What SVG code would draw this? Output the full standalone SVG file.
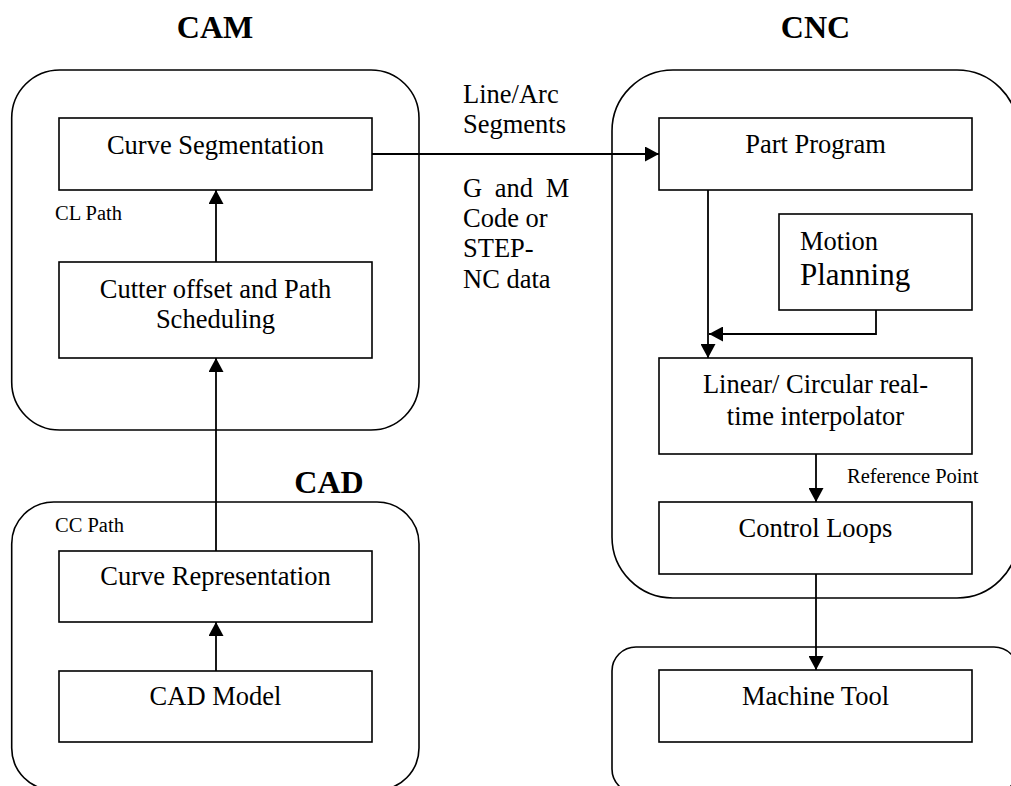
<svg xmlns="http://www.w3.org/2000/svg" width="1011" height="786" viewBox="0 0 1011 786">
  <defs>
    <marker id="arrow" markerWidth="14" markerHeight="15" refX="14" refY="7.5" orient="auto" markerUnits="userSpaceOnUse">
      <path d="M0,0 L14,7.5 L0,15 Z" fill="#000"/>
    </marker>
  </defs>
  <style>
    .group { fill: none; stroke: #000; stroke-width: 1.6; }
    .box { fill: #fff; stroke: #000; stroke-width: 1.6; }
    .t { font-family: "Liberation Serif", "Times New Roman", serif; font-size: 26.5px; fill: #000; }
    .c { text-anchor: middle; }
    .small { font-family: "Liberation Serif", "Times New Roman", serif; font-size: 20.5px; fill: #000; }
    .title { font-family: "Liberation Serif", "Times New Roman", serif; font-size: 32px; font-weight: bold; fill: #000; text-anchor: middle; }
    .conn { fill: none; stroke: #000; stroke-width: 1.8; }
  </style>

  <rect width="1011" height="786" fill="#fff"/>

  <!-- Section frames -->
  <g id="cam-frame">
    <rect class="group" x="11.7" y="70" width="407.3" height="360" rx="48" ry="48"/>
    <text class="title" x="215" y="38">CAM</text>
    <text class="small" x="55" y="220">CL Path</text>
  </g>
  <g id="cad-frame">
    <rect class="group" x="11.7" y="502" width="407.3" height="288" rx="42" ry="42"/>
    <text class="title" x="329" y="493">CAD</text>
    <text class="small" x="55" y="532">CC Path</text>
  </g>
  <g id="cnc-frame">
    <rect class="group" x="612" y="70" width="406" height="528" rx="61" ry="61"/>
    <text class="title" x="815.5" y="38">CNC</text>
    <text class="small" x="847" y="483">Reference Point</text>
  </g>
  <g id="machine-frame">
    <rect class="group" x="612" y="647" width="406" height="146" rx="24" ry="24"/>
  </g>

  <!-- Connectors -->
  <g id="connectors">
    <line class="conn" x1="372" y1="154" x2="659" y2="154" marker-end="url(#arrow)"/>
    <line class="conn" x1="216" y1="262" x2="216" y2="190" marker-end="url(#arrow)"/>
    <line class="conn" x1="216" y1="551" x2="216" y2="358" marker-end="url(#arrow)"/>
    <line class="conn" x1="216" y1="671" x2="216" y2="622" marker-end="url(#arrow)"/>
    <line class="conn" x1="708" y1="190" x2="708" y2="358" marker-end="url(#arrow)"/>
    <polyline class="conn" points="876,310 876,334 709,334" marker-end="url(#arrow)"/>
    <line class="conn" x1="816" y1="454" x2="816" y2="502" marker-end="url(#arrow)"/>
    <line class="conn" x1="816" y1="574" x2="816" y2="670" marker-end="url(#arrow)"/>
  </g>

  <!-- Connector label between CAM and CNC -->
  <g id="transfer-label">
    <text class="t" x="463" y="103">Line/Arc</text>
    <text class="t" x="463" y="133">Segments</text>
    <text class="t" x="463" y="197" word-spacing="6">G and M</text>
    <text class="t" x="463" y="227">Code or</text>
    <text class="t" x="463" y="257">STEP-</text>
    <text class="t" x="463" y="288">NC data</text>
  </g>

  <!-- CAM nodes -->
  <g id="curve-segmentation">
    <rect class="box" x="59" y="118" width="313" height="72"/>
    <text class="t c" x="215.5" y="154">Curve Segmentation</text>
  </g>
  <g id="cutter-offset">
    <rect class="box" x="59" y="262" width="313" height="96"/>
    <text class="t c" x="215.5" y="298">Cutter offset and Path</text>
    <text class="t c" x="215.5" y="328">Scheduling</text>
  </g>

  <!-- CAD nodes -->
  <g id="curve-representation">
    <rect class="box" x="59" y="551" width="313" height="71"/>
    <text class="t c" x="215.5" y="585">Curve Representation</text>
  </g>
  <g id="cad-model">
    <rect class="box" x="59" y="671" width="313" height="71"/>
    <text class="t c" x="215.5" y="705">CAD Model</text>
  </g>

  <!-- CNC nodes -->
  <g id="part-program">
    <rect class="box" x="659" y="118" width="313" height="72"/>
    <text class="t c" x="815.5" y="153">Part Program</text>
  </g>
  <g id="motion-planning">
    <rect class="box" x="779" y="214" width="193" height="96"/>
    <text class="t" x="800" y="250">Motion</text>
    <text class="t" x="800" y="285" style="font-size:31px">Planning</text>
  </g>
  <g id="interpolator">
    <rect class="box" x="659" y="358" width="313" height="96"/>
    <text class="t c" x="815.5" y="393">Linear/ Circular real-</text>
    <text class="t c" x="815.5" y="425">time interpolator</text>
  </g>
  <g id="control-loops">
    <rect class="box" x="659" y="502" width="313" height="72"/>
    <text class="t c" x="815.5" y="537">Control Loops</text>
  </g>
  <g id="machine-tool">
    <rect class="box" x="659" y="670" width="313" height="72"/>
    <text class="t c" x="815.5" y="705">Machine Tool</text>
  </g>
</svg>
